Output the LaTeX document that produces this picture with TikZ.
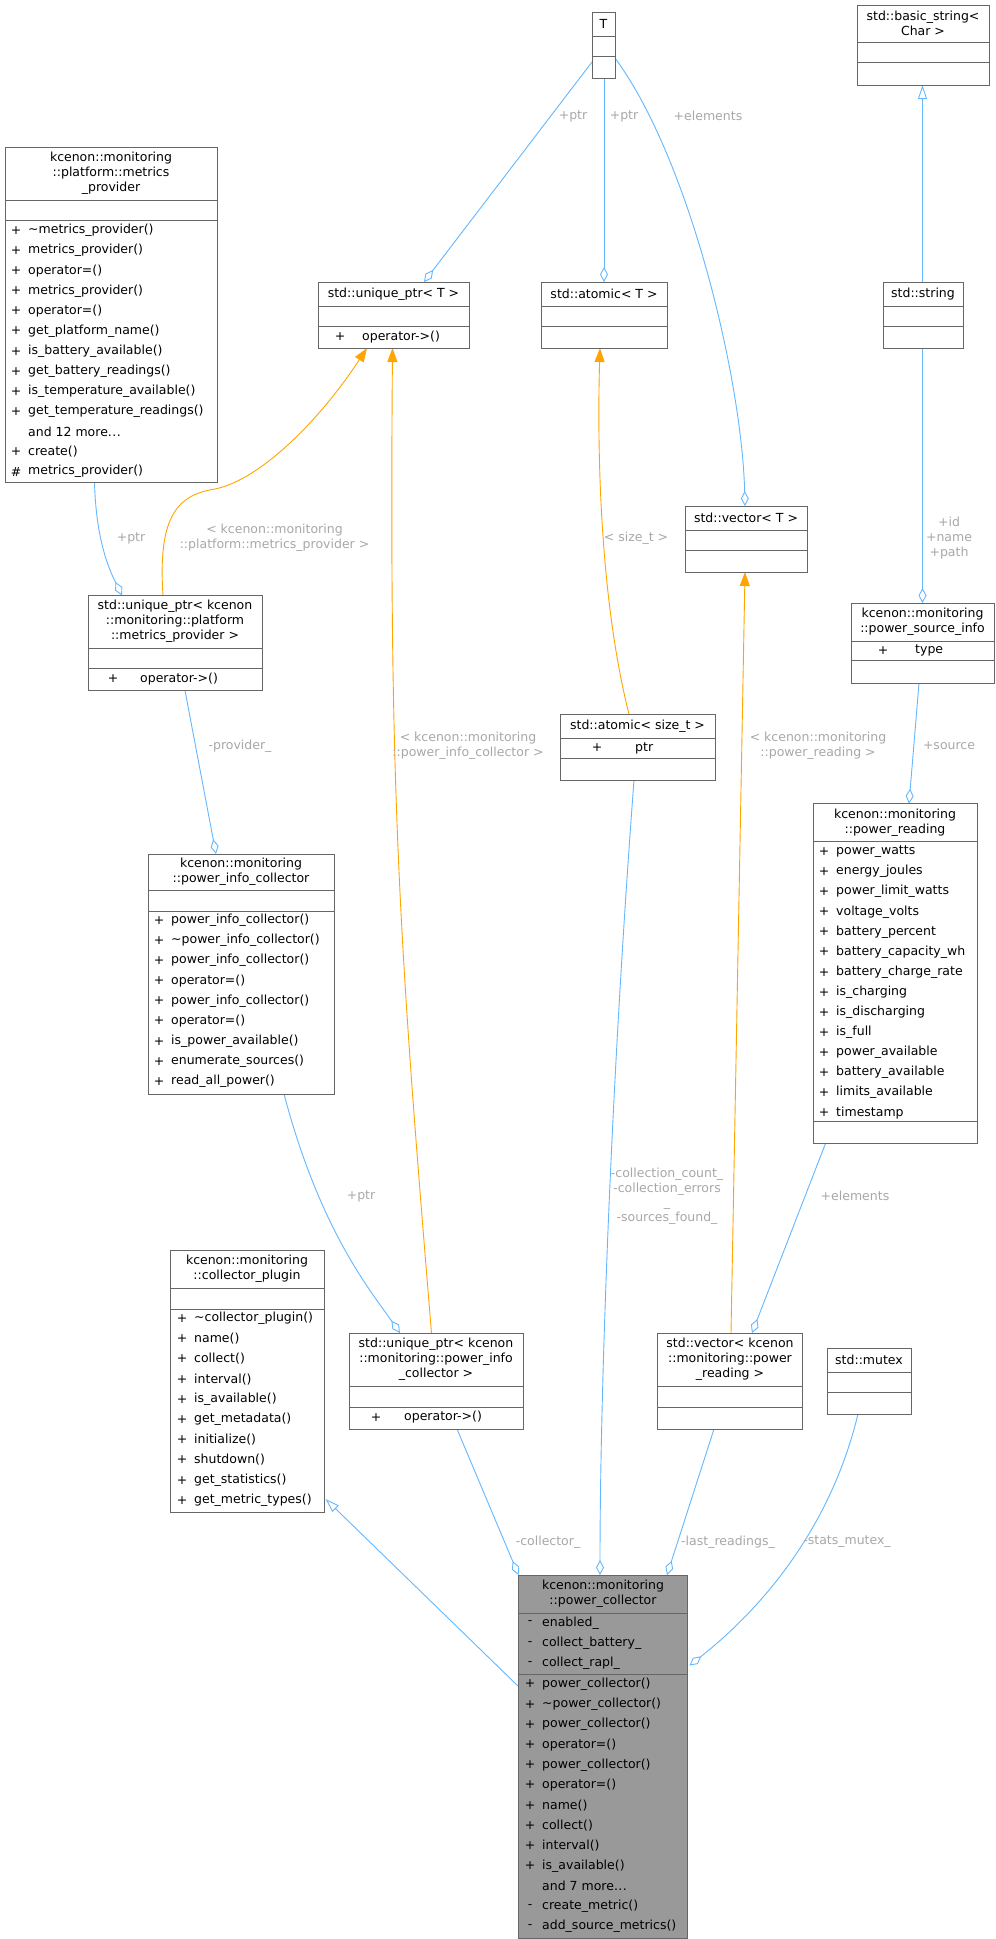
\documentclass[tikz,border=0pt]{standalone}
\usepackage{fontspec}
\setmainfont{DejaVu Sans}
\usetikzlibrary{arrows.meta,fit}
\definecolor{edgeblue}{HTML}{63B8FF}
\definecolor{edgeorange}{HTML}{FFA500}
\definecolor{boxline}{HTML}{666666}
\definecolor{lblgray}{HTML}{A8A8A8}
\definecolor{pcfill}{HTML}{999999}
\newcommand\threedots{.\kern0.5pt.\kern0.5pt.}
\tikzset{
  boxst/.style={draw=boxline,line width=0.9pt,inner sep=0pt,fill=white},
  hdr/.style={align=center,font=\fontsize{12.5}{15}\selectfont,inner sep=0pt},
  mtxt/.style={anchor=west,font=\fontsize{12.5}{15}\selectfont,inner sep=0pt},
  msym/.style={font=\fontsize{12.5}{15}\selectfont,inner sep=0pt},
  lbl/.style={text=lblgray,align=center,font=\fontsize{12.5}{15}\selectfont,inner sep=0pt},
  bl/.style={draw=edgeblue,line width=0.9pt},
  agg/.style={bl,-{Diamond[fill=white,length=15pt,width=8pt]}},
  inh/.style={bl,-{Triangle[fill=white,length=14pt,width=9pt]}},
  spec/.style={draw=edgeorange,line width=0.9pt,-{Triangle[fill=edgeorange,length=14pt,width=10pt]}},
}
\newcommand\cls[8][white]{%
  \node[boxst,fill=#1,fit={(#3,#4)(#5,#6)}] (#2) {};
  \draw[boxline,line width=0.9pt] (#3,#7)--(#5,#7) (#3,#8)--(#5,#8);}
\begin{document}
\begin{tikzpicture}[x=1pt,y=-1pt]
\useasboundingbox (0,0) rectangle (996,1939);
\fill[white] (0,0) rectangle (996,1939);

% ---- edges (drawn first) ----
\draw[agg] (592,62) -- (424,282);
\draw[agg] (604,78) -- (604,282);
\draw[agg] (615,58) .. controls (690,160) and (742,380) .. (745,506);
\draw[inh] (922.5,282) -- (922.5,85);
\draw[agg] (922.5,348) -- (922.5,603);
\draw[agg] (94.5,482) .. controls (96,545) and (112,575) .. (122,595.5);
\draw[spec] (163,595.5) .. controls (158,520) and (175,495) .. (215,489) .. controls (260,480) and (320,420) .. (367,348);
\draw[spec] (431.5,1333) .. controls (400,950) and (389,800) .. (392.5,348);
\draw[spec] (629,714) .. controls (600,600) and (597,450) .. (600,348);
\draw[spec] (731,1333) -- (745,572);
\draw[agg] (919,683) -- (909,803.6);
\draw[agg] (185,690.5) -- (216,854);
\draw[agg] (284,1094) .. controls (320,1230) and (370,1290) .. (400,1333);
\draw[agg] (825.5,1143.5) -- (752,1333);
\draw[agg] (634,780) .. controls (610,1100) and (600,1400) .. (600,1575);
\draw[agg] (457,1429) -- (518.5,1575);
\draw[agg] (714,1429) -- (667,1575);
\draw[agg] (858,1414) .. controls (830,1530) and (760,1610) .. (689.5,1665.5);
\draw[inh] (518,1686) -- (325.6,1499);

% ---- labels ----
\node[lbl] (l1) at (573,116) {+ptr};
\node[lbl] (l2) at (624,116) {+ptr};
\node[lbl] (l3) at (708,116) {+elements};
\node[lbl] (l4) at (949,538) {+id\\+name\\+path};
\node[lbl] (l5) at (131,538) {+ptr};
\node[lbl] (l6) at (274.5,538) {< kcenon::monitoring\\::platform::metrics\_provider >};
\node[lbl] (l7) at (468,746) {< kcenon::monitoring\\::power\_info\_collector >};
\node[lbl] (l8) at (636,538) {< size\_t >};
\node[lbl] (l9) at (818,746) {< kcenon::monitoring\\::power\_reading >};
\node[lbl] (l10) at (949,746) {+source};
\node[lbl] (l11) at (240,746) {-provider\_};
\node[lbl] (l12) at (361,1196) {+ptr};
\node[lbl] (l13) at (855,1196) {+elements};
\node[lbl,font=\fontsize{12.5}{14.5}\selectfont] (l14) at (667,1196) {-collection\_count\_\\-collection\_errors\\\_\\-sources\_found\_};
\node[lbl] (l15) at (548,1542) {-collector\_};
\node[lbl] (l16) at (728,1542) {-last\_readings\_};
\node[lbl] (l17) at (847,1542) {-stats\_mutex\_};

% ---- classes ----
\cls{T}{592}{12.5}{615}{78}{36}{56}
\node[hdr] at (603.5,24) {T};

\cls{bstr}{857}{5}{989}{85}{42}{62.5}
\node[hdr] at (923,23.5) {std::basic\_string<\\Char >};

\cls{mprov}{5}{147}{217}{482}{200}{220.5}
\node[hdr] at (111,173.5) {kcenon::monitoring\\::platform::metrics\\\_provider};
\foreach \s/\t [count=\i from 0] in {+/\textasciitilde metrics\_provider(),+/metrics\_provider(),+/operator=(),+/metrics\_provider(),+/operator=(),+/get\_platform\_name(),+/is\_battery\_available(),+/get\_battery\_readings(),+/is\_temperature\_available(),+/get\_temperature\_readings(),{}/{and 12 more\threedots},+/create(),\#/metrics\_provider()}
  {\node[msym] at (16,230.5+\i*20.1) {\s}; \node[mtxt] at (28,230.5+\i*20.1) {\t};}

\cls{uptrT}{318}{282}{469}{348}{306}{326}
\node[hdr] at (393.5,294) {std::unique\_ptr< T >};
\node[msym] at (340,337) {+}; \node[mtxt] at (362,337) {operator->()};

\cls{atomT}{541}{282}{667}{348}{306}{326}
\node[hdr] at (604,294) {std::atomic< T >};

\cls{str}{883}{282}{963}{348}{306}{326}
\node[hdr] at (923,294) {std::string};

\cls{vecT}{685}{506}{807}{572}{530}{550}
\node[hdr] at (746,518) {std::vector< T >};

\cls{uptrM}{88}{595.5}{262}{690.5}{648}{668}
\node[hdr] at (175,621.5) {std::unique\_ptr< kcenon\\::monitoring::platform\\::metrics\_provider >};
\node[msym] at (113,679) {+}; \node[mtxt] at (140,679) {operator->()};

\cls{psi}{851}{603}{994}{683}{641.5}{660}
\node[hdr] at (922.5,622) {kcenon::monitoring\\::power\_source\_info};
\node[msym] at (883,650.5) {+}; \node[mtxt] at (915,650.5) {type};

\cls{atomS}{560}{714}{715}{780}{738}{758}
\node[hdr] at (637.5,726) {std::atomic< size\_t >};
\node[msym] at (597,748) {+}; \node[mtxt] at (635,748) {ptr};

\cls{pic}{148}{854}{334}{1094}{890.5}{911}
\node[hdr] at (241,872) {kcenon::monitoring\\::power\_info\_collector};
\foreach \t [count=\i from 0] in {power\_info\_collector(),\textasciitilde power\_info\_collector(),power\_info\_collector(),operator=(),power\_info\_collector(),operator=(),is\_power\_available(),enumerate\_sources(),read\_all\_power()}
  {\node[msym] at (159,920.5+\i*20.1) {+}; \node[mtxt] at (171,920.5+\i*20.1) {\t};}

\cls{prd}{813}{803.6}{977}{1143.5}{841.6}{1121}
\node[hdr] at (895,822.5) {kcenon::monitoring\\::power\_reading};
\foreach \t [count=\i from 0] in {power\_watts,energy\_joules,power\_limit\_watts,voltage\_volts,battery\_percent,battery\_capacity\_wh,battery\_charge\_rate,is\_charging,is\_discharging,is\_full,power\_available,battery\_available,limits\_available,timestamp}
  {\node[msym] at (824,851.5+\i*20.1) {+}; \node[mtxt] at (836,851.5+\i*20.1) {\t};}

\cls{cplug}{170.5}{1250}{324}{1512}{1288.5}{1309}
\node[hdr] at (247,1269) {kcenon::monitoring\\::collector\_plugin};
\foreach \t [count=\i from 0] in {\textasciitilde collector\_plugin(),name(),collect(),interval(),is\_available(),get\_metadata(),initialize(),shutdown(),get\_statistics(),get\_metric\_types()}
  {\node[msym] at (182,1318.5+\i*20.2) {+}; \node[mtxt] at (194,1318.5+\i*20.2) {\t};}

\cls{uptrP}{349}{1333}{523.5}{1429}{1386}{1407}
\node[hdr] at (436,1359.5) {std::unique\_ptr< kcenon\\::monitoring::power\_info\\\_collector >};
\node[msym] at (376,1417.5) {+}; \node[mtxt] at (404,1417.5) {operator->()};

\cls{vecP}{657}{1333}{802.5}{1429}{1386}{1407}
\node[hdr] at (730,1359.5) {std::vector< kcenon\\::monitoring::power\\\_reading >};

\cls{mtx}{827.5}{1348}{911}{1414}{1372}{1392}
\node[hdr] at (869,1360) {std::mutex};

\cls[pcfill]{pc}{518}{1575}{687.6}{1938}{1613}{1674}
\node[hdr] at (603,1594) {kcenon::monitoring\\::power\_collector};
\foreach \t [count=\i from 0] in {enabled\_,collect\_battery\_,collect\_rapl\_}
  {\node[msym] at (530,1623+\i*20.2) {-}; \node[mtxt] at (542,1623+\i*20.2) {\t};}
\foreach \s/\t [count=\i from 0] in {+/power\_collector(),+/\textasciitilde power\_collector(),+/power\_collector(),+/operator=(),+/power\_collector(),+/operator=(),+/name(),+/collect(),+/interval(),+/is\_available(),{}/{and 7 more\threedots},-/create\_metric(),-/add\_source\_metrics()}
  {\node[msym] at (530,1684+\i*20.2) {\s}; \node[mtxt] at (542,1684+\i*20.2) {\t};}
\end{tikzpicture}
\end{document}
